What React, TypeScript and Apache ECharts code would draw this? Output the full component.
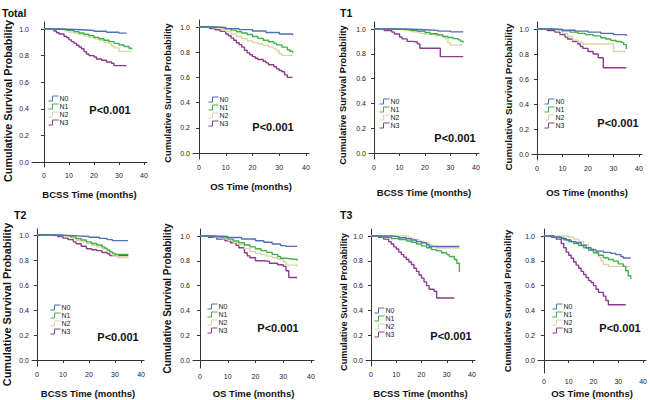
import React, { useEffect, useRef } from 'react';
import * as echarts from 'echarts';

// ---------- data ----------
const groupNames = ['N0', 'N1', 'N2', 'N3'];
const xTickValues = [0, 10, 20, 30, 40];
const yTickValues = [0, 0.2, 0.4, 0.6, 0.8, 1.0];
const stageTitles = ['Total', 'T1', 'T2', 'T3'];
const pValueLabels = ['P<0.001', 'P<0.001', 'P<0.001', 'P<0.001', 'P<0.001', 'P<0.001', 'P<0.001', 'P<0.001'];
const yAxisTitle = 'Cumulative Survival Probability';
const bcssTitle = 'BCSS Time (months)';
const osTitle = 'OS Time (months)';

// Total – BCSS
const totalBcssN0 = [[0, 1], [5, 0.998], [10, 0.994], [15, 0.989], [20, 0.983], [25, 0.976], [30, 0.969], [33, 0.966]];
const totalBcssN1 = [[0, 1], [6, 0.997], [9, 0.99], [12, 0.98], [14, 0.97], [16, 0.96], [18, 0.95], [20, 0.937], [22, 0.927], [24, 0.915], [26, 0.905], [28, 0.892], [30, 0.88], [32, 0.868], [34, 0.855], [35, 0.845]];
const totalBcssN2 = [[0, 1], [5, 0.996], [8, 0.988], [10, 0.978], [12, 0.968], [14, 0.958], [16, 0.948], [18, 0.938], [20, 0.927], [22, 0.915], [24, 0.902], [26, 0.89], [27, 0.872], [28, 0.858], [30, 0.832], [35, 0.832]];
const totalBcssN3 = [[0, 1], [2, 0.995], [4, 0.985], [5, 0.972], [6, 0.962], [8, 0.945], [9, 0.935], [10, 0.918], [11, 0.905], [12, 0.892], [13, 0.878], [14, 0.865], [15, 0.852], [16, 0.83], [17, 0.812], [18, 0.8], [20, 0.79], [21, 0.775], [23, 0.765], [25, 0.752], [27, 0.742], [28, 0.725], [33, 0.725]];
// Total – OS
const totalOsN0 = [[0, 1], [5, 0.996], [10, 0.987], [15, 0.979], [20, 0.968], [25, 0.956], [30, 0.944], [35, 0.935]];
const totalOsN1 = [[0, 1], [5, 0.997], [8, 0.992], [10, 0.985], [12, 0.975], [14, 0.962], [16, 0.952], [18, 0.94], [20, 0.925], [22, 0.91], [24, 0.895], [26, 0.883], [28, 0.87], [29, 0.858], [31, 0.84], [33, 0.82], [34, 0.808], [35, 0.795]];
const totalOsN2 = [[0, 1], [5, 0.993], [8, 0.982], [10, 0.965], [12, 0.945], [14, 0.925], [16, 0.908], [18, 0.89], [20, 0.876], [22, 0.865], [24, 0.853], [26, 0.84], [28, 0.826], [29, 0.812], [30, 0.79], [31, 0.775], [35, 0.77]];
const totalOsN3 = [[0, 1], [2, 0.995], [4, 0.988], [6, 0.978], [8, 0.965], [10, 0.945], [11, 0.93], [12, 0.912], [13, 0.895], [14, 0.875], [15, 0.86], [16, 0.84], [17, 0.815], [18, 0.795], [19, 0.78], [20, 0.765], [21, 0.752], [22, 0.742], [24, 0.728], [25, 0.715], [26, 0.7], [28, 0.685], [29, 0.668], [30, 0.655], [31, 0.645], [32, 0.62], [33, 0.6], [35, 0.6]];
// T1 – BCSS
const t1BcssN0 = [[0, 1], [10, 0.998], [15, 0.994], [20, 0.989], [25, 0.983], [30, 0.977], [35, 0.972]];
const t1BcssN1 = [[0, 1], [10, 0.997], [14, 0.99], [17, 0.982], [20, 0.972], [22, 0.962], [25, 0.952], [27, 0.94], [29, 0.932], [31, 0.922], [33, 0.912], [34, 0.9], [35, 0.892]];
const t1BcssN2 = [[0, 1], [8, 0.995], [12, 0.988], [15, 0.978], [18, 0.965], [20, 0.958], [24, 0.948], [27, 0.94], [28, 0.92], [29, 0.89], [30, 0.87], [35, 0.87]];
const t1BcssN3 = [[0, 1], [4, 0.987], [7, 0.975], [8, 0.96], [10, 0.935], [11, 0.92], [13, 0.9], [15, 0.895], [17, 0.88], [18, 0.845], [26, 0.777], [35, 0.777]];
// T1 – OS
const t1OsN0 = [[0, 1], [5, 0.997], [10, 0.99], [15, 0.983], [20, 0.975], [25, 0.965], [30, 0.955], [35, 0.945]];
const t1OsN1 = [[0, 1], [6, 0.995], [10, 0.985], [13, 0.975], [16, 0.965], [19, 0.955], [22, 0.945], [25, 0.93], [27, 0.92], [29, 0.908], [31, 0.9], [33, 0.893], [34, 0.875], [35, 0.84]];
const t1OsN2 = [[0, 1], [5, 0.995], [8, 0.987], [10, 0.965], [12, 0.94], [14, 0.91], [16, 0.895], [18, 0.88], [30, 0.82], [35, 0.82]];
const t1OsN3 = [[0, 1], [4, 0.988], [7, 0.975], [9, 0.955], [11, 0.935], [12, 0.92], [14, 0.9], [16, 0.88], [17, 0.86], [18, 0.845], [20, 0.82], [22, 0.8], [24, 0.77], [26, 0.69], [35, 0.69]];
// T2 – BCSS
const t2BcssN0 = [[0, 1], [8, 0.997], [12, 0.993], [16, 0.988], [20, 0.982], [24, 0.973], [27, 0.963], [29, 0.955], [35, 0.952]];
const t2BcssN1 = [[0, 1], [6, 0.997], [10, 0.993], [13, 0.985], [15, 0.972], [17, 0.96], [19, 0.945], [21, 0.932], [23, 0.92], [25, 0.905], [26, 0.895], [27, 0.88], [28, 0.865], [29, 0.855], [30, 0.845], [35, 0.838]];
const t2BcssN2 = [[0, 1], [6, 0.995], [10, 0.99], [13, 0.975], [15, 0.958], [17, 0.945], [19, 0.932], [21, 0.918], [23, 0.905], [25, 0.89], [27, 0.865], [29, 0.84], [31, 0.82], [35, 0.812]];
const t2BcssN3 = [[0, 1], [4, 0.995], [8, 0.988], [10, 0.975], [12, 0.963], [14, 0.945], [15, 0.93], [17, 0.91], [19, 0.89], [21, 0.882], [23, 0.875], [25, 0.86], [27, 0.85], [28, 0.835], [35, 0.835]];
// T2 – OS
const t2OsN0 = [[0, 1], [5, 0.996], [10, 0.988], [15, 0.976], [20, 0.962], [23, 0.95], [26, 0.935], [29, 0.922], [31, 0.916], [35, 0.915]];
const t2OsN1 = [[0, 1], [5, 0.993], [8, 0.985], [10, 0.975], [12, 0.96], [14, 0.945], [16, 0.928], [18, 0.912], [20, 0.897], [22, 0.882], [24, 0.868], [26, 0.852], [28, 0.835], [29, 0.82], [31, 0.815], [33, 0.81], [35, 0.8]];
const t2OsN2 = [[0, 1], [5, 0.99], [8, 0.978], [10, 0.965], [12, 0.948], [14, 0.93], [16, 0.9], [18, 0.875], [20, 0.86], [22, 0.85], [24, 0.838], [26, 0.825], [28, 0.812], [30, 0.79], [31, 0.765], [35, 0.755]];
const t2OsN3 = [[0, 1], [3, 0.99], [6, 0.975], [9, 0.962], [11, 0.945], [13, 0.925], [14, 0.905], [16, 0.865], [17, 0.84], [18, 0.825], [20, 0.8], [23, 0.795], [25, 0.78], [28, 0.768], [30, 0.755], [31, 0.72], [32, 0.665], [35, 0.665]];
// T3 – BCSS
const t3BcssN0 = [[0, 1], [8, 0.995], [11, 0.986], [14, 0.978], [16, 0.968], [18, 0.955], [20, 0.945], [22, 0.93], [23, 0.915], [35, 0.912]];
const t3BcssN1 = [[0, 1], [4, 0.99], [8, 0.98], [11, 0.972], [14, 0.96], [16, 0.95], [18, 0.935], [20, 0.92], [22, 0.905], [24, 0.89], [26, 0.88], [28, 0.865], [30, 0.85], [31, 0.835], [33, 0.81], [34, 0.78], [35, 0.71]];
const t3BcssN2 = [[0, 1], [14, 1], [15, 0.985], [17, 0.972], [19, 0.958], [21, 0.945], [23, 0.93], [24, 0.918], [26, 0.903], [35, 0.903]];
const t3BcssN3 = [[0, 1], [3, 0.99], [5, 0.975], [7, 0.955], [8, 0.935], [9, 0.912], [10, 0.895], [11, 0.87], [12, 0.85], [13, 0.83], [14, 0.81], [15, 0.79], [16, 0.77], [17, 0.74], [18, 0.715], [19, 0.685], [20, 0.66], [21, 0.63], [22, 0.6], [23, 0.57], [25, 0.555], [26, 0.5], [33, 0.5]];
// T3 – OS
const t3OsN0 = [[0, 1], [4, 0.99], [7, 0.98], [9, 0.968], [11, 0.955], [13, 0.945], [15, 0.925], [17, 0.905], [19, 0.89], [21, 0.878], [24, 0.868], [27, 0.86], [29, 0.85], [31, 0.835], [32, 0.822], [35, 0.822]];
const t3OsN1 = [[0, 1], [4, 0.99], [6, 0.985], [8, 0.97], [10, 0.955], [12, 0.94], [14, 0.922], [16, 0.905], [18, 0.885], [20, 0.865], [22, 0.845], [24, 0.825], [26, 0.81], [28, 0.797], [30, 0.775], [32, 0.755], [33, 0.72], [34, 0.68], [35, 0.655]];
const t3OsN2 = [[0, 1], [8, 1], [10, 0.99], [12, 0.975], [14, 0.955], [16, 0.93], [18, 0.9], [20, 0.87], [22, 0.83], [23, 0.8], [24, 0.77], [26, 0.755], [35, 0.755]];
const t3OsN3 = [[0, 1], [3, 0.99], [5, 0.975], [7, 0.94], [8, 0.905], [9, 0.87], [10, 0.845], [11, 0.82], [12, 0.79], [13, 0.765], [14, 0.74], [15, 0.715], [16, 0.69], [17, 0.665], [18, 0.64], [19, 0.625], [20, 0.6], [21, 0.57], [22, 0.545], [24, 0.515], [25, 0.48], [26, 0.445], [33, 0.445]];

const panelSeries = [
  [totalBcssN0, totalBcssN1, totalBcssN2, totalBcssN3],
  [totalOsN0, totalOsN1, totalOsN2, totalOsN3],
  [t1BcssN0, t1BcssN1, t1BcssN2, t1BcssN3],
  [t1OsN0, t1OsN1, t1OsN2, t1OsN3],
  [t2BcssN0, t2BcssN1, t2BcssN2, t2BcssN3],
  [t2OsN0, t2OsN1, t2OsN2, t2OsN3],
  [t3BcssN0, t3BcssN1, t3BcssN2, t3BcssN3],
  [t3OsN0, t3OsN1, t3OsN2, t3OsN3],
];

// ---------- styles / layout ----------
const groupColors = ['#4f6fb6', '#3fb24a', '#d9d7a2', '#8c3b8e'];
const FONT = '"Liberation Sans", Arial, sans-serif';

const layouts = [
  { ax: 32, x0: 44, x40: 144, ay: 167, y0: 162, y1: 29, ty: 22, rx: 147, os: false, xGap: 22, ySize: 10.8, yGap: 19, yShift: 6.5, legX: 48, legY: 95, pX: 110, pY: 110 },
  { ax: 193, x0: 199, x40: 306, ay: 159, y0: 153, y1: 27, ty: 20, rx: 309, os: true, xGap: 22, ySize: 9.3, yGap: 21, yShift: 3.5, legX: 208, legY: 96, pX: 273, pY: 127 },
  { ax: 369, x0: 374, x40: 476, ay: 159, y0: 153, y1: 29, ty: 22, rx: 479, os: false, xGap: 28, ySize: 9.3, yGap: 22, yShift: 4.5, legX: 379, legY: 98, pX: 455, pY: 138 },
  { ax: 532, x0: 537, x40: 639, ay: 160, y0: 154, y1: 29, ty: 22, rx: 642, os: true, xGap: 27, ySize: 9.8, yGap: 19, yShift: 6, legX: 544, legY: 98, pX: 618, pY: 123 },
  { ax: 31, x0: 36, x40: 141, ay: 366, y0: 360, y1: 235, ty: 229, rx: 144, os: false, xGap: 22, ySize: 10.9, yGap: 20, yShift: 7, legX: 50, legY: 304, pX: 118, pY: 337 },
  { ax: 193, x0: 200, x40: 311, ay: 368, y0: 360, y1: 236, ty: 229, rx: 314, os: true, xGap: 20, ySize: 10, yGap: 21, yShift: 0, legX: 207, legY: 303, pX: 278, pY: 328 },
  { ax: 366, x0: 371, x40: 472, ay: 366, y0: 360, y1: 236, ty: 229, rx: 475, os: false, xGap: 22, ySize: 9.2, yGap: 18, yShift: 4.5, legX: 374, legY: 307, pX: 451, pY: 336 },
  { ax: 538, x0: 544, x40: 645, ay: 373, y0: 360, y1: 236, ty: 229, rx: 648, os: true, xGap: 15, ySize: 9.5, yGap: 26, yShift: 0, legX: 552, legY: 303, pX: 620, pY: 328 },
];

const titlePositions = [
  { x: 2, y: 13 },
  { x: 340, y: 13 },
  { x: 14, y: 215 },
  { x: 340, y: 215 },
];

function buildOption() {
  const grid: any[] = [];
  const xAxis: any[] = [];
  const yAxis: any[] = [];
  const series: any[] = [];
  const legend: any[] = [];
  const graphic: any[] = [];

  layouts.forEach((L, i) => {
    const pxPerMonth = (L.x40 - L.x0) / 40;
    const pxPerUnit = L.y0 - L.y1;
    grid.push({ left: L.ax, top: L.ty, width: L.rx - L.ax, height: L.ay - L.ty, containLabel: false });
    xAxis.push({
      type: 'value',
      gridIndex: i,
      min: -(L.x0 - L.ax) / pxPerMonth,
      max: (L.rx - L.x0) / pxPerMonth,
      name: L.os ? osTitle : bcssTitle,
      nameLocation: 'middle',
      nameGap: L.xGap,
      nameTextStyle: { fontFamily: FONT, fontWeight: 'bold', fontSize: 9.5, color: '#111' },
      axisLine: { show: true, lineStyle: { color: '#333', width: 1 } },
      axisTick: { show: true, length: 3, customValues: xTickValues, lineStyle: { color: '#333' } },
      axisLabel: { customValues: xTickValues, fontSize: 7, color: '#222', fontFamily: FONT, margin: 5, formatter: (v: number) => String(Math.round(v)) },
      splitLine: { show: false },
    });
    yAxis.push({
      type: 'value',
      gridIndex: i,
      min: -(L.ay - L.y0) / pxPerUnit,
      max: (L.y0 - L.ty) / pxPerUnit,
      name: yAxisTitle,
      nameLocation: 'middle',
      nameGap: L.yGap,
      nameTextStyle: {
        fontFamily: FONT,
        fontWeight: 'bold',
        fontSize: L.ySize,
        color: '#111',
        padding: [0, L.yShift * 2, 0, 0],
      },
      axisLine: { show: true, lineStyle: { color: '#333', width: 1 } },
      axisTick: { show: true, length: 3, customValues: yTickValues, lineStyle: { color: '#333' } },
      axisLabel: { customValues: yTickValues, fontSize: 7, color: '#222', fontFamily: FONT, margin: 3, formatter: (v: number) => v.toFixed(1) },
      splitLine: { show: false },
    });
    panelSeries[i].forEach((data, g) => {
      series.push({
        type: 'line',
        name: groupNames[g],
        xAxisIndex: i,
        yAxisIndex: i,
        step: 'end',
        showSymbol: false,
        symbol: 'none',
        silent: true,
        lineStyle: { color: groupColors[g], width: 1.4 },
        itemStyle: { color: groupColors[g] },
        data,
        z: 2 + (3 - g),
      });
    });
    legend.push({
      orient: 'vertical',
      left: L.legX,
      top: L.legY,
      padding: 0,
      itemWidth: 10,
      itemHeight: 5,
      itemGap: 1,
      symbolKeepAspect: false,
      selectedMode: false,
      textStyle: { fontSize: 7, color: '#222', fontFamily: FONT, lineHeight: 7, padding: [0, 0, 0, -4] },
      data: groupNames.map((n, g) => ({
        name: n,
        icon: 'path://M0,5L4,5L4,0L10,0',
        itemStyle: { color: 'transparent', borderColor: groupColors[g], borderWidth: 1 },
      })),
    });
    graphic.push({
      type: 'text',
      x: L.pX,
      y: L.pY,
      style: {
        text: pValueLabels[i],
        font: `bold 11px ${FONT}`,
        fill: '#111',
        align: 'center',
        verticalAlign: 'middle',
        textAlign: 'center',
        textVerticalAlign: 'middle',
      },
    });
  });

  stageTitles.forEach((t, k) => {
    graphic.push({
      type: 'text',
      x: titlePositions[k].x,
      y: titlePositions[k].y,
      style: {
        text: t,
        font: `bold 10.5px ${FONT}`,
        fill: '#111',
        align: 'left',
        verticalAlign: 'middle',
        textAlign: 'left',
        textVerticalAlign: 'middle',
      },
    });
  });

  return {
    animation: false,
    backgroundColor: '#ffffff',
    grid,
    xAxis,
    yAxis,
    legend,
    series,
    graphic,
  };
}

export default function App() {
  const ref = useRef<HTMLDivElement>(null);
  useEffect(() => {
    if (!ref.current) return;
    const chart = echarts.init(ref.current, undefined, { renderer: 'svg', width: 650, height: 400 });
    chart.setOption(buildOption() as any);
    return () => chart.dispose();
  }, []);
  return (
    <div
      ref={ref}
      style={{ position: 'fixed', left: 0, top: 0, width: 650, height: 400, background: '#fff' }}
    />
  );
}
